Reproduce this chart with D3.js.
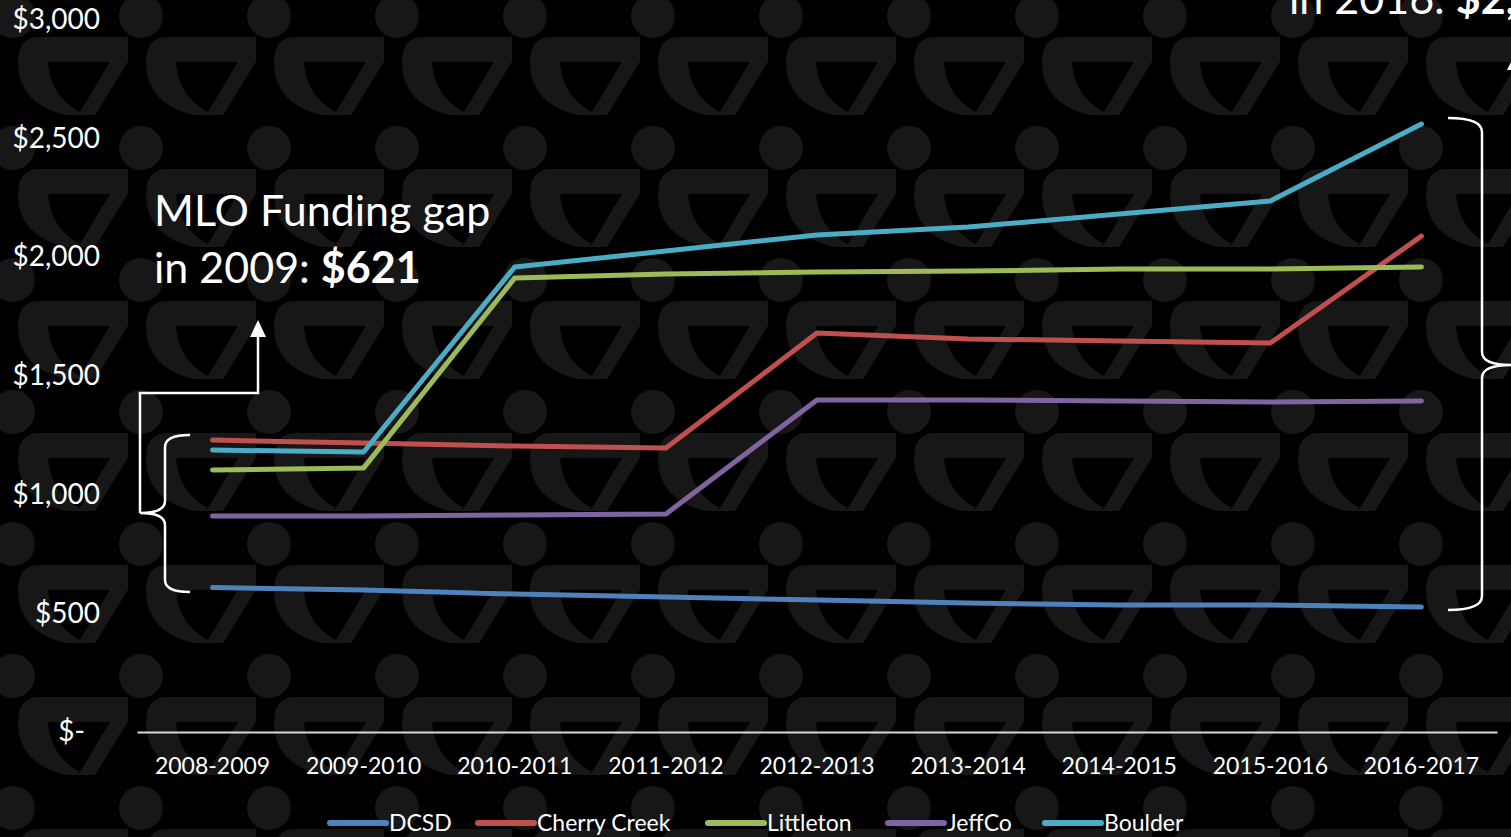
<!DOCTYPE html>
<html>
<head>
<meta charset="utf-8">
<script src="https://cdn.jsdelivr.net/npm/d3@7"></script>
<style>
  html, body { margin: 0; padding: 0; background: #000; overflow: hidden; }
  text { font-family: Lato, "Open Sans", sans-serif; fill: #fff; }
</style>
</head>
<body>
<div id="chart"></div>
<script>
const years = ['2008-2009', '2009-2010', '2010-2011', '2011-2012', '2012-2013', '2013-2014', '2014-2015', '2015-2016', '2016-2017']
const yTicks = [0, 500, 1000, 1500, 2000, 2500, 3000]

const dcsd = [608, 598, 581, 568, 556, 543, 535, 535, 526]
const cherryCreek = [1229, 1217, 1204, 1196, 1680, 1655, 1646, 1638, 2088]
const littleton = [1103, 1112, 1912, 1928, 1937, 1941, 1949, 1949, 1958]
const jeffCo = [909, 909, 914, 918, 1398, 1398, 1394, 1389, 1394]
const boulder = [1187, 1179, 1958, 2025, 2093, 2126, 2181, 2236, 2560]

const names = ['DCSD', 'Cherry Creek', 'Littleton', 'JeffCo', 'Boulder']
const colors = ['#4f81bd', '#c0504d', '#9bbb59', '#8064a2', '#4bacc6']

const series = [dcsd, cherryCreek, littleton, jeffCo, boulder].map((vals, i) => ({
    name: names[i],
    color: colors[i],
    values: vals
}))

const w = 1511,
    h = 837

const svg = d3.select('#chart')
    .append('svg')
    .attr('width', w)
    .attr('height', h)
    .style('display', 'block')
    .style('background-color', '#000')

// background: people pattern
const bg = '#171717'
const defs = svg.append('defs')
const pat = defs.append('pattern')
    .attr('id', 'bgpat')
    .attr('patternUnits', 'userSpaceOnUse')
    .attr('width', 128)
    .attr('height', 132)
pat.append('circle').attr('cx', 13).attr('cy', 16).attr('r', 22).attr('fill', bg)
pat.append('circle').attr('cx', 141).attr('cy', 16).attr('r', 22).attr('fill', bg)
pat.append('circle').attr('cx', 13).attr('cy', 148).attr('r', 22).attr('fill', bg)
pat.append('circle').attr('cx', 141).attr('cy', 148).attr('r', 22).attr('fill', bg)
pat.append('path')
    .attr('fill', bg)
    .attr('fill-rule', 'evenodd')
    .attr('d', 'M40,37 L126,37 Q141,37 135,50 L95,115 L66,115 Q18,104 18,62 Q18,37 40,37 Z ' +
        'M48,62 L110,62 L80,112 Q50,96 48,62 Z')
svg.append('rect')
    .attr('width', w)
    .attr('height', h)
    .attr('fill', 'url(#bgpat)')

const x = d3.scaleBand()
    .domain(years)
    .range([137, 1497])

const y = d3.scaleLinear()
    .domain([0, 3000])
    .range([732, 19.5])

// Y axis
const yAxis = d3.axisLeft(y)
    .tickValues(yTicks)
    .tickSize(0)
    .tickPadding(0)
    .tickFormat(d => d === 0 ? '$-' : d3.format('$,')(d))
const gy = svg.append('g')
    .attr('transform', 'translate(100,0)')
    .call(yAxis)
gy.select('.domain').remove()
gy.selectAll('text')
    .style('font-size', '28px')
    .style('font-family', 'Lato, sans-serif')
    .attr('fill', '#fff')
    .attr('x', d => d === 0 ? -15 : 0)

// X axis
const xAxis = d3.axisBottom(x)
    .tickSize(0)
    .tickSizeOuter(0)
    .tickPadding(26)
const gx = svg.append('g')
    .attr('transform', 'translate(0,732)')
    .call(xAxis)
gx.select('.domain')
    .attr('stroke', '#d9d9d9')
    .attr('stroke-width', 2)
gx.selectAll('text')
    .style('font-size', '23px')
    .style('font-family', 'Lato, sans-serif')
    .attr('fill', '#fff')

// lines
const line = d3.line()
    .x((d, i) => x(years[i]) + x.bandwidth() / 2)
    .y(d => y(d))

svg.append('g')
    .selectAll('path')
    .data(series)
    .enter()
    .append('path')
    .attr('d', d => line(d.values))
    .attr('fill', 'none')
    .attr('stroke', d => d.color)
    .attr('stroke-width', 5)
    .attr('stroke-linecap', 'round')
    .attr('stroke-linejoin', 'round')

// legend
const legendX = [330, 478, 708, 888, 1045]
const legend = svg.append('g')
    .selectAll('g')
    .data(series)
    .enter()
    .append('g')
    .attr('transform', (d, i) => `translate(${legendX[i]},823)`)
legend.append('line')
    .attr('x1', 0)
    .attr('x2', 56)
    .attr('stroke', d => d.color)
    .attr('stroke-width', 6)
    .attr('stroke-linecap', 'round')
legend.append('text')
    .attr('x', 59)
    .attr('y', 8)
    .style('font-size', '23px')
    .text(d => d.name)

// annotation left
const note = svg.append('text')
    .attr('x', 154)
    .attr('y', 226)
    .style('font-size', '43px')
note.append('tspan').text('MLO Funding gap')
const note2 = svg.append('text')
    .attr('x', 154)
    .attr('y', 283)
    .style('font-size', '43px')
note2.append('tspan').text('in 2009: ')
note2.append('tspan').style('font-weight', 'bold').text('$621')

// annotation right (runs off the edge, as in the slide)
const noteR = svg.append('text')
    .attr('x', 1289)
    .attr('y', 14)
    .style('font-size', '43px')
noteR.append('tspan').text('in 2016: ')
noteR.append('tspan').style('font-weight', 'bold').text('$2,034')

// braces + arrows
svg.append('path')
    .attr('d', 'M190,435 Q165,435 165,447 L165,501 Q165,513 140,513 Q165,513 165,525 L165,580 Q165,592 190,592')
    .attr('fill', 'none')
    .attr('stroke', '#fff')
    .attr('stroke-width', 2.5)
svg.append('path')
    .attr('d', 'M140,513 L140,393 L258,393 L258,336')
    .attr('fill', 'none')
    .attr('stroke', '#fff')
    .attr('stroke-width', 2.5)
svg.append('path')
    .attr('d', 'M250,337 L266,337 L258,320 Z')
    .attr('fill', '#fff')
svg.append('path')
    .attr('d', 'M1448,118 Q1482,118 1482,132 L1482,352 Q1482,365 1511,365 Q1482,365 1482,378 L1482,596 Q1482,610 1448,610')
    .attr('fill', 'none')
    .attr('stroke', '#fff')
    .attr('stroke-width', 2.5)
svg.append('path')
    .attr('d', 'M1507,70 L1525,70 L1516,52 Z')
    .attr('fill', '#fff')
</script>
</body>
</html>
